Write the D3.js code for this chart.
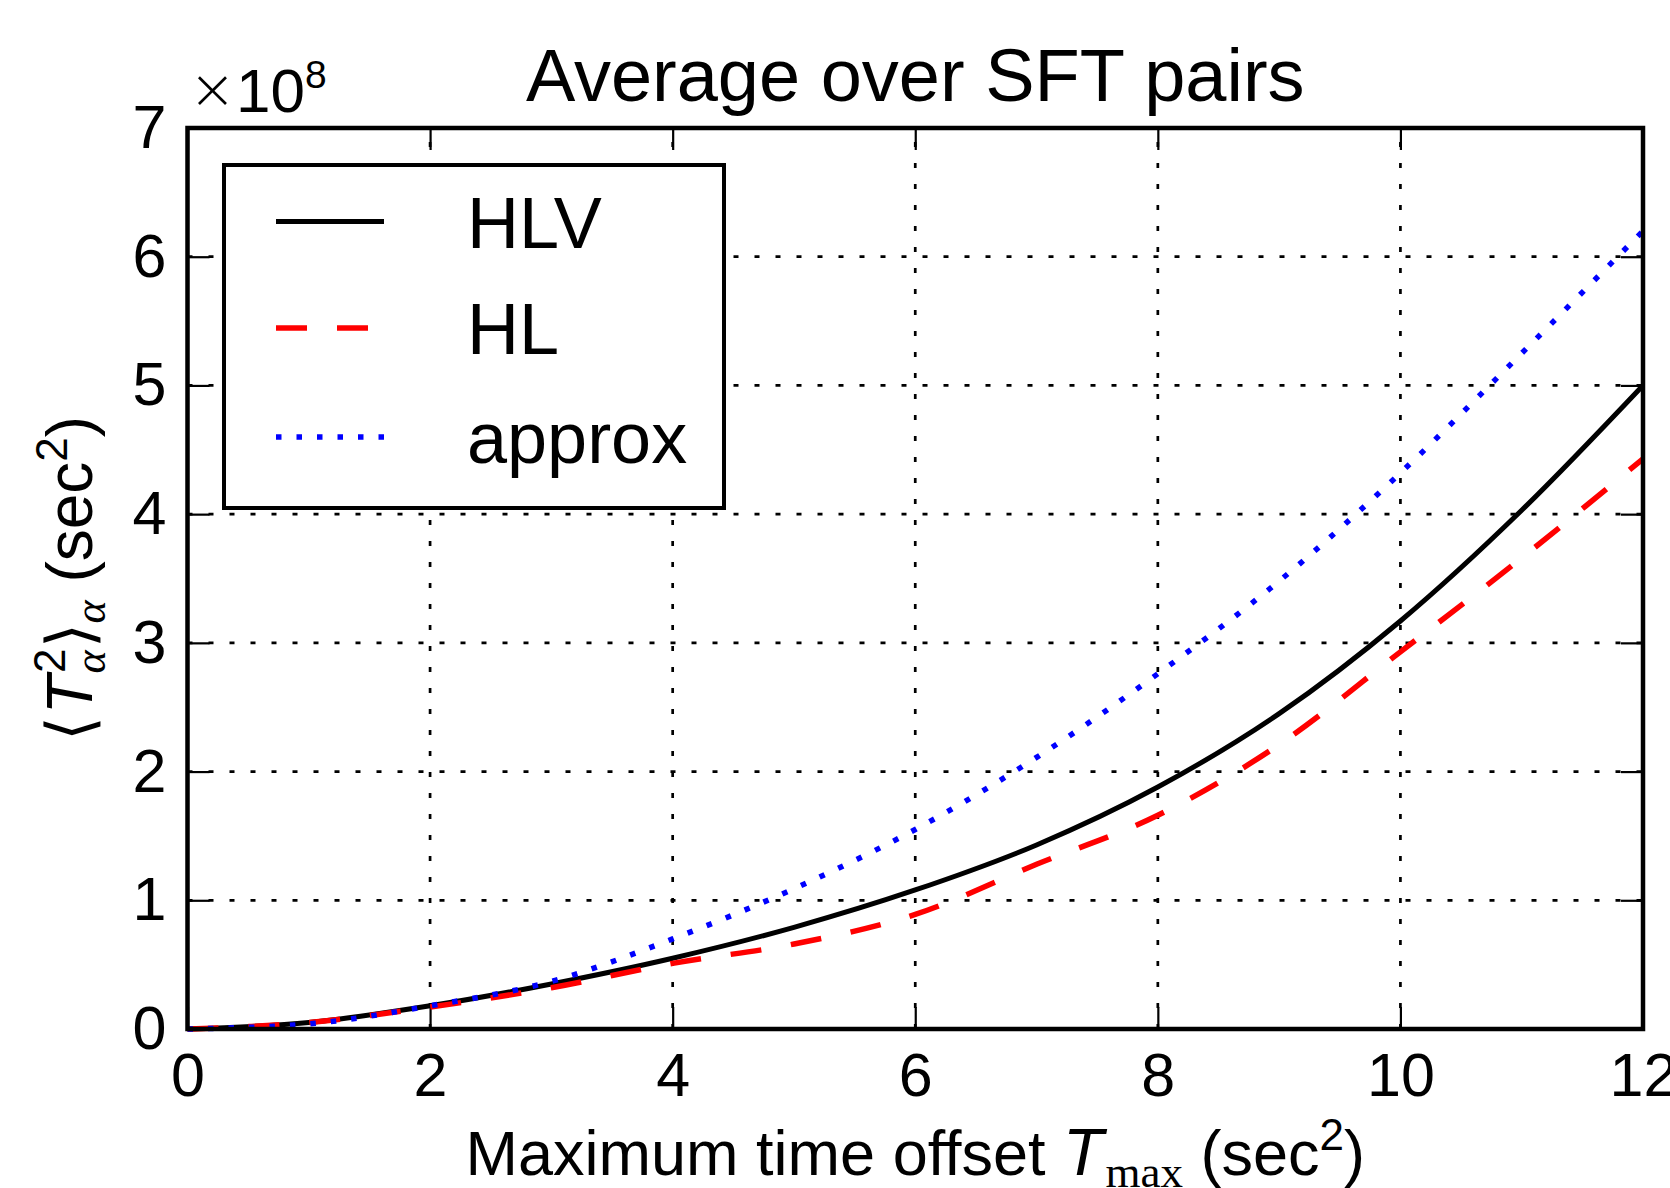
<!DOCTYPE html>
<html>
<head>
<meta charset="utf-8">
<script src="https://cdn.jsdelivr.net/npm/d3@7"></script>
<style>
  body { margin: 0; background: #fff; }
  svg text { font-family: "Liberation Sans", Arial, Helvetica, sans-serif; fill: #000; }
</style>
</head>
<body>
<div id="chart"></div>
<script>
// values, y in units of 1e8 sec^2
var tmax = [0, 1, 2, 3, 4, 5, 6, 7, 8, 9, 10, 11, 12];
var hlv = [0, 0.05, 0.18, 0.35, 0.55, 0.79, 1.08, 1.43, 1.88, 2.45, 3.17, 4.03, 5.0];
var hl = [0, 0.05, 0.17, 0.32, 0.51, 0.66, 0.89, 1.28, 1.66, 2.21, 2.93, 3.66, 4.43];
var approx = [0, 0.04, 0.18, 0.37, 0.70, 1.09, 1.55, 2.11, 2.76, 3.48, 4.32, 5.25, 6.2];
var xTicks = [0, 2, 4, 6, 8, 10, 12];
var yTicks = [0, 1, 2, 3, 4, 5, 6, 7];
var seriesNames = ["HLV", "HL", "approx"];

var W = 1670, H = 1188;
var pLeft = 187.5, pRight = 1643, pTop = 128, pBottom = 1029;

var svg = d3.select("#chart").append("svg")
  .attr("width", W)
  .attr("height", H);

var x = d3.scaleLinear().domain([0, 12]).range([pLeft, pRight]);
var y = d3.scaleLinear().domain([0, 7]).range([pBottom, pTop]);

// grid (dotted)
var grid = svg.append("g");
grid.selectAll(".vg").data(xTicks).enter().append("line")
  .attr("x1", d => x(d)).attr("x2", d => x(d))
  .attr("y1", pBottom).attr("y2", pTop)
  .attr("stroke", "#000").attr("stroke-width", 2.7)
  .attr("stroke-dasharray", "5,16");
grid.selectAll(".hg").data(yTicks).enter().append("line")
  .attr("y1", d => y(d)).attr("y2", d => y(d))
  .attr("x1", pLeft).attr("x2", pRight)
  .attr("stroke", "#000").attr("stroke-width", 2.7)
  .attr("stroke-dasharray", "5,16");

// axes with inward ticks
var tickLen = 22;
var xAxis = svg.append("g")
  .attr("transform", `translate(0,${pBottom})`)
  .call(d3.axisBottom(x).tickValues(xTicks).tickSizeInner(-tickLen).tickSizeOuter(0)
    .tickPadding(24).tickFormat(d3.format("d")));
var yAxis = svg.append("g")
  .attr("transform", `translate(${pLeft},0)`)
  .call(d3.axisLeft(y).tickValues(yTicks).tickSizeInner(-tickLen).tickSizeOuter(0)
    .tickPadding(21).tickFormat(d3.format("d")));
var xTop = svg.append("g")
  .attr("transform", `translate(0,${pTop})`)
  .call(d3.axisTop(x).tickValues(xTicks).tickSizeInner(-tickLen).tickSizeOuter(0).tickFormat(""));
var yRight = svg.append("g")
  .attr("transform", `translate(${pRight},0)`)
  .call(d3.axisRight(y).tickValues(yTicks).tickSizeInner(-tickLen).tickSizeOuter(0).tickFormat(""));

[xAxis, yAxis, xTop, yRight].forEach(function(a) {
  a.select(".domain").remove();
  a.selectAll(".tick line").attr("stroke", "#000").attr("stroke-width", 2.2);
  a.selectAll(".tick text")
    .attr("font-size", 61)
    .attr("font-family", "Liberation Sans, Arial, sans-serif")
    .attr("fill", "#000");
});

// the curves
var rows = tmax.map((t, i) => ({t: t, hlv: hlv[i], hl: hl[i], approx: approx[i]}));
var styles = {
  hlv: {color: "#000", width: 5, dash: null},
  hl: {color: "#ff0000", width: 5.5, dash: "31,30"},
  approx: {color: "#0000ff", width: 5.5, dash: "5.5,15"}
};
["hlv", "hl", "approx"].forEach(function(key) {
  var line = d3.line()
    .x(d => x(d.t))
    .y(d => y(d[key]))
    .curve(d3.curveMonotoneX);
  svg.append("path")
    .datum(rows)
    .attr("d", line)
    .attr("fill", "none")
    .attr("stroke", styles[key].color)
    .attr("stroke-width", styles[key].width)
    .attr("stroke-dasharray", styles[key].dash);
});

// frame
svg.append("rect")
  .attr("x", pLeft).attr("y", pTop)
  .attr("width", pRight - pLeft).attr("height", pBottom - pTop)
  .attr("fill", "none").attr("stroke", "#000").attr("stroke-width", 4.5);

// legend
var lg = svg.append("g");
lg.append("rect")
  .attr("x", 224).attr("y", 165).attr("width", 500).attr("height", 343)
  .attr("fill", "#fff").attr("stroke", "#000").attr("stroke-width", 4);
var legendKeys = ["hlv", "hl", "approx"];
var legendY = [221.5, 328, 437];
legendKeys.forEach(function(key, i) {
  lg.append("line")
    .attr("x1", 276).attr("x2", 384)
    .attr("y1", legendY[i]).attr("y2", legendY[i])
    .attr("stroke", styles[key].color)
    .attr("stroke-width", styles[key].width)
    .attr("stroke-dasharray", styles[key].dash);
  lg.append("text")
    .attr("x", 467).attr("y", legendY[i] + 26)
    .attr("font-size", 72)
    .text(seriesNames[i]);
});

// title
svg.append("text")
  .attr("x", (pLeft + pRight) / 2).attr("y", 101)
  .attr("text-anchor", "middle")
  .attr("font-size", 74)
  .text("Average over SFT pairs");

// offset text
var off = svg.append("text").attr("x", 189).attr("y", 112).attr("font-size", 62);
off.append("tspan").attr("font-family", "DejaVu Sans").attr("font-weight", "200").attr("font-size", 56).attr("dy", -4).text("\u00d7");
off.append("tspan").attr("dy", 4).text("10");
off.append("tspan").attr("font-size", 39).attr("dy", -24).text("8");

// x label
var xl = svg.append("text")
  .attr("x", (pLeft + pRight) / 2).attr("y", 1175)
  .attr("text-anchor", "middle")
  .attr("font-size", 63);
xl.append("tspan").text("Maximum time offset ");
xl.append("tspan").attr("font-style", "italic").attr("font-size", 66).text("T");
xl.append("tspan").attr("font-family", "Liberation Serif, serif").attr("font-size", 45).attr("dy", 12).attr("dx", 2).text("max");
xl.append("tspan").attr("dy", -12).text(" (sec");
xl.append("tspan").attr("font-size", 44).attr("dy", -25).text("2");
xl.append("tspan").attr("dy", 25).text(")");

// y label (rotated; negative dy moves a glyph up relative to the text)
var yl = svg.append("text")
  .attr("transform", `translate(92,${(pTop + pBottom) / 2}) rotate(-90)`)
  .attr("text-anchor", "middle")
  .attr("font-size", 64);
yl.append("tspan").attr("font-family", "DejaVu Sans").attr("font-weight", "200").text("\u27e8");
yl.append("tspan").attr("font-style", "italic").attr("dx", 2).text("T");
yl.append("tspan").attr("font-size", 44).attr("dy", -27).attr("dx", 2).text("2");
yl.append("tspan").attr("font-family", "Liberation Serif, serif").attr("font-style", "italic")
  .attr("font-size", 44).attr("dy", 40).attr("dx", -25).text("\u03b1");
yl.append("tspan").attr("font-family", "DejaVu Sans").attr("font-weight", "200").attr("dy", -13).attr("dx", 2).text("\u27e9");
yl.append("tspan").attr("font-family", "Liberation Serif, serif").attr("font-style", "italic")
  .attr("font-size", 44).attr("dy", 13).text("\u03b1");
yl.append("tspan").attr("dy", -13).text(" (sec");
yl.append("tspan").attr("font-size", 44).attr("dy", -25).text("2");
yl.append("tspan").attr("dy", 25).text(")");
</script>
</body>
</html>
